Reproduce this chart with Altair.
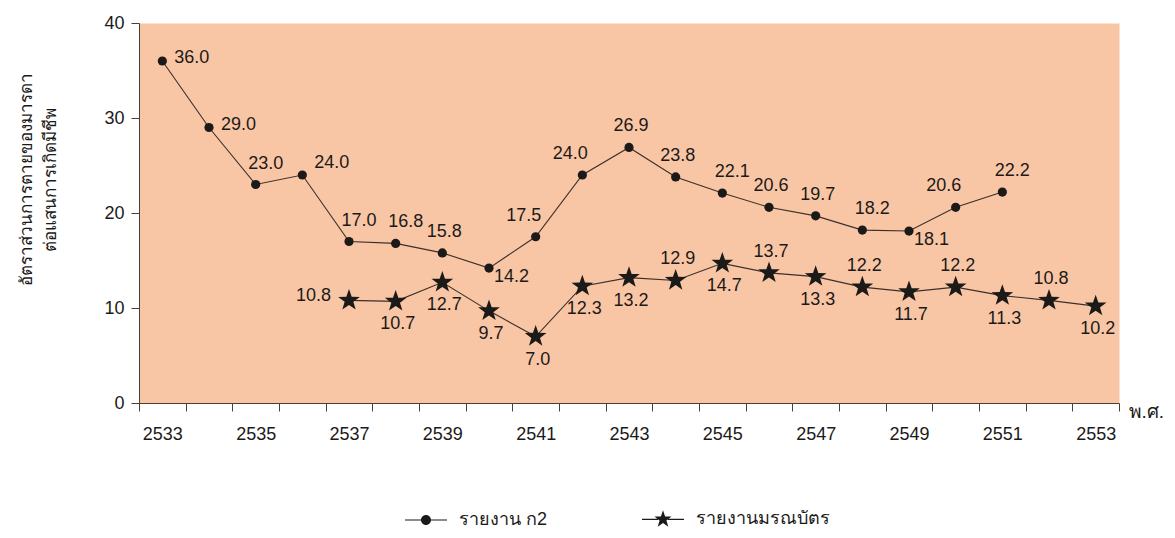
import math
import altair as alt
import pandas as pd

# ---------------- data ----------------
years_all = [str(y) for y in range(2533, 2554)]

k2_years = [str(y) for y in range(2533, 2552)]
k2_values = [36.0, 29.0, 23.0, 24.0, 17.0, 16.8, 15.8, 14.2, 17.5, 24.0,
             26.9, 23.8, 22.1, 20.6, 19.7, 18.2, 18.1, 20.6, 22.2]

death_years = [str(y) for y in range(2537, 2554)]
death_values = [10.8, 10.7, 12.7, 9.7, 7.0, 12.3, 13.2, 12.9, 14.7, 13.7,
                13.3, 12.2, 11.7, 12.2, 11.3, 10.8, 10.2]

series_names = ["รายงาน ก2", "รายงานมรณบัตร"]

# which side of its marker each value label sits on
k2_label_side = ["r", "r", "ar", "r2", "ar", "ar", "a", "br", "al", "al",
                 "a", "a", "ar", "a", "a", "ar", "br", "al", "ar"]
death_label_side = ["l", "b", "b", "b", "b", "b", "b", "sa", "b", "sa",
                    "b", "sa", "b", "sa", "b", "sa", "b"]

y_title = ["อัตราส่วนการตายของมารดา", "ต่อแสนการเกิดมีชีพ"]
x_title = "พ.ศ."

# ---------------- table ----------------
rows = []
for y, v, s in zip(k2_years, k2_values, k2_label_side):
    rows.append({"year": y, "value": v, "series": series_names[0], "side": s, "label": f"{v:.1f}"})
for y, v, s in zip(death_years, death_values, death_label_side):
    rows.append({"year": y, "value": v, "series": series_names[1], "side": s, "label": f"{v:.1f}"})
df = pd.DataFrame(rows)

# ---------------- styles ----------------
FONT = "Liberation Sans, Arial, Noto Sans, sans-serif"
INK = "#1c1a19"
LINE = "#3a2f2a"
AXIS = "#4a3f38"
BG = "#F9C6A5"
FS = 18


def star_points(outer, inner):
    pts = []
    for i in range(10):
        r = outer if i % 2 == 0 else inner
        a = -math.pi / 2 + i * math.pi / 5
        pts.append(f"{r * math.cos(a):.3f},{r * math.sin(a):.3f}")
    return "M" + "L".join(pts) + "Z"


def side_bars(gap, reach=2.1, half=0.06):
    # two thin filled bars either side of the marker (legend "line")
    return (f"M{-reach},{-half}H{-gap}V{half}H{-reach}Z"
            f"M{gap},{-half}H{reach}V{half}H{gap}Z")


STAR = star_points(1.0, 0.40)
dot_legend = side_bars(0.45) + "M0.5,0A0.5,0.5 0 1,1 -0.5,0A0.5,0.5 0 1,1 0.5,0Z"
star_legend = side_bars(0.5) + star_points(0.9, 0.36)

x_enc = alt.X(
    "year:O",
    scale=alt.Scale(type="band", domain=years_all, paddingInner=0, paddingOuter=0),
    axis=alt.Axis(
        title=x_title, titleX=989, titleY=8, titleAlign="left", titleBaseline="middle",
        titleAngle=0, titleFont=FONT, titleFontSize=19, titleFontWeight="normal", titleColor=INK,
        labelExpr="(toNumber(datum.value) - 2533) % 2 == 0 ? datum.value : ''",
        labelAngle=0, labelOverlap=False, labelFont=FONT, labelFontSize=FS, labelColor=INK,
        labelPadding=14, tickBand="extent", tickSize=8, tickColor=AXIS, domainColor=AXIS,
        grid=False,
    ),
)
y_enc = alt.Y(
    "value:Q",
    scale=alt.Scale(domain=[0, 40], nice=False, zero=True),
    axis=alt.Axis(
        values=[0, 10, 20, 30, 40], title=y_title, titleAngle=270, titleAlign="center",
        titleBaseline="top", titleX=-121, titleY=156, titleLineHeight=24,
        titleFont=FONT, titleFontSize=17, titleFontWeight="normal", titleColor=INK,
        labelFont=FONT, labelFontSize=FS, labelColor=INK, labelPadding=7,
        tickSize=8, tickColor=AXIS, domainColor=AXIS, grid=False,
    ),
)

base = alt.Chart(df)

lines = base.mark_line(color=LINE, strokeWidth=1.1).encode(
    x=x_enc, y=y_enc, detail="series:N"
)

dots = base.transform_filter(alt.datum.series == series_names[0]).mark_point(
    shape="circle", filled=True, size=85, color=INK, opacity=1
).encode(x=x_enc, y=y_enc)

stars = base.transform_filter(alt.datum.series == series_names[1]).mark_point(
    shape=STAR, filled=True, size=520, color=INK, opacity=1
).encode(x=x_enc, y=y_enc)

side_style = {
    "r":  dict(align="left", dx=12, dy=-3),
    "r2": dict(align="left", dx=12, dy=-12),
    "ar": dict(align="center", dx=10, dy=-21),
    "a":  dict(align="center", dx=2, dy=-21),
    "al": dict(align="center", dx=-12, dy=-21),
    "br": dict(align="left", dx=5, dy=9),
    "b":  dict(align="center", dx=2, dy=23),
    "sa": dict(align="center", dx=2, dy=-21),
    "l":  dict(align="right", dx=-18, dy=-4),
}
label_layers = []
for side, st in side_style.items():
    label_layers.append(
        base.transform_filter(alt.datum.side == side).mark_text(
            baseline="middle", font=FONT, fontSize=FS, color=INK, **st
        ).encode(x=x_enc, y=y_enc, text="label:N")
    )

legend_layer = base.transform_filter("false").mark_point(
    filled=True, color=INK, opacity=1, size=400
).encode(
    x=x_enc, y=y_enc,
    shape=alt.Shape(
        "series:N",
        scale=alt.Scale(domain=series_names, range=[dot_legend, star_legend]),
        legend=alt.Legend(
            title=None, orient="none", direction="horizontal", legendX=276, legendY=485,
            symbolSize=400, symbolFillColor=INK, symbolOpacity=1,
            labelFont=FONT, labelFontSize=18, labelColor=INK, labelOffset=22,
            columnPadding=91,
        ),
    ),
)

chart = alt.layer(lines, dots, stars, *label_layers, legend_layer).properties(
    width=980, height=380,
    autosize=alt.AutoSizeParams(type="none"),
    padding={"left": 131, "top": 15, "right": 48, "bottom": 127},
).configure_view(fill=BG, stroke="transparent")

chart.save("out.html", embed_options={"renderer": "svg", "actions": False})
